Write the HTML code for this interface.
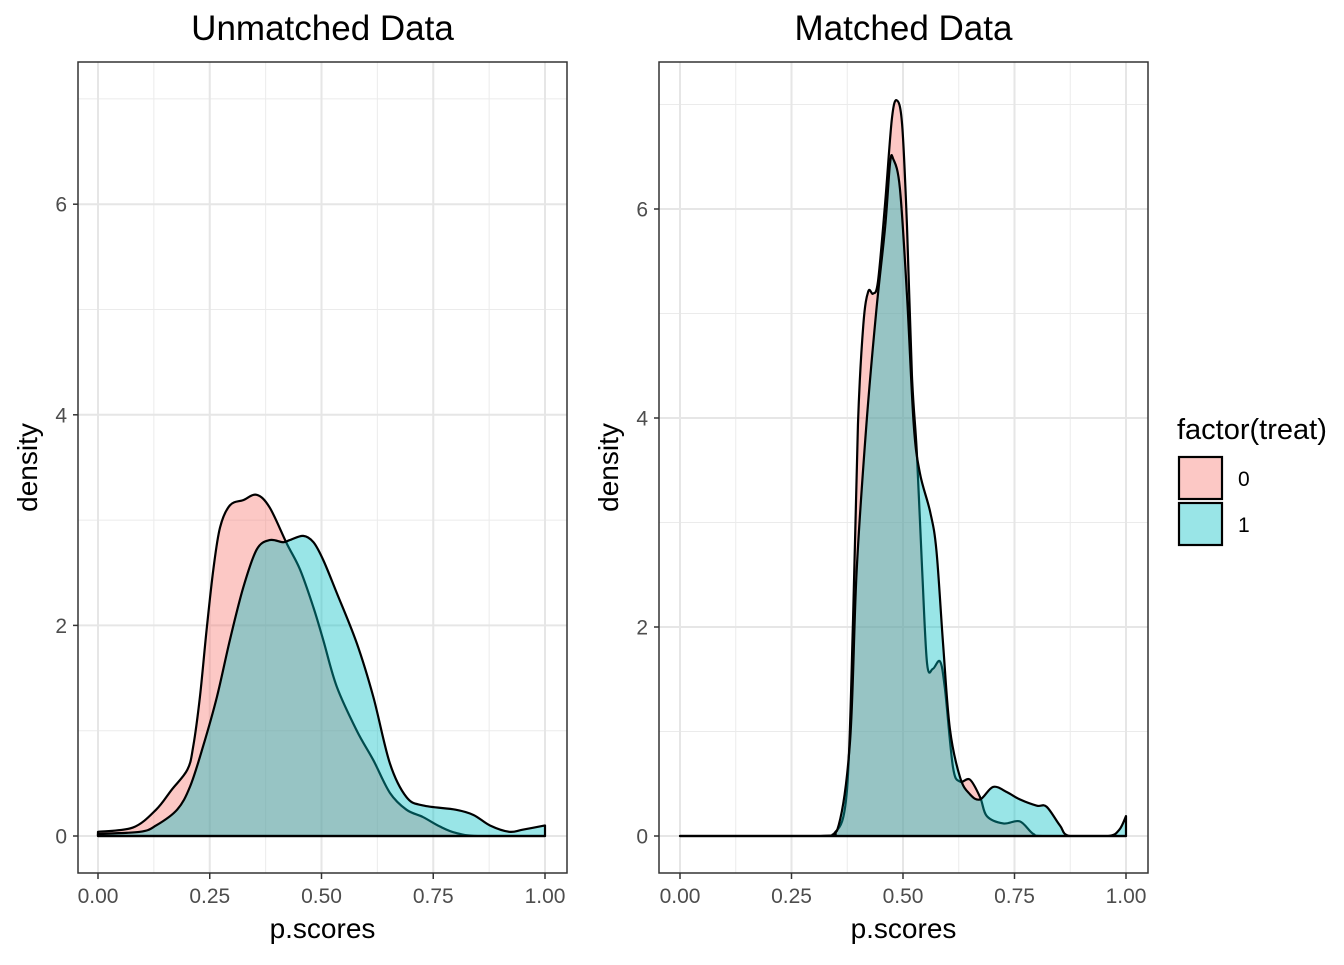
<!DOCTYPE html>
<html><head><meta charset="utf-8"><style>
body{margin:0;background:#fff;}
svg text{font-family:"Liberation Sans",Arial,sans-serif;}
</style></head><body>
<svg id="chart" width="1344" height="960" xmlns="http://www.w3.org/2000/svg"></svg>
<script>
// Unmatched data
const unX0 = [0,0.078,0.13,0.165,0.2,0.213,0.228,0.243,0.258,0.273,0.295,0.325,0.355,0.384,0.422,0.452,0.482,0.504,0.534,0.579,0.616,0.653,0.69,0.727,0.765,0.8,0.85,1];
const unY0 = [0.04,0.08,0.25,0.44,0.63,0.85,1.32,1.96,2.53,2.93,3.14,3.19,3.24,3.12,2.78,2.53,2.17,1.86,1.42,1.0,0.72,0.41,0.25,0.18,0.09,0.03,0,0];
const unX1 = [0,0.094,0.13,0.177,0.206,0.235,0.266,0.295,0.325,0.355,0.384,0.414,0.429,0.459,0.482,0.504,0.534,0.579,0.616,0.653,0.69,0.727,0.8,0.84,0.877,0.92,0.95,1];
const unY1 = [0.02,0.04,0.1,0.25,0.47,0.85,1.32,1.86,2.36,2.72,2.81,2.79,2.81,2.85,2.79,2.62,2.31,1.83,1.32,0.69,0.37,0.29,0.25,0.2,0.1,0.04,0.06,0.1];
// Matched data
const mX0 = [0,0.3,0.345,0.374,0.388,0.399,0.411,0.422,0.433,0.444,0.46,0.475,0.486,0.498,0.509,0.52,0.531,0.543,0.554,0.567,0.583,0.594,0.612,0.628,0.65,0.673,0.688,0.725,0.762,0.792,0.82,1];
const mY0 = [0,0,0.02,0.42,2.07,3.94,4.89,5.21,5.19,5.31,6.06,6.86,7.04,6.81,5.83,4.41,3.67,2.54,1.65,1.6,1.67,1.41,0.66,0.52,0.54,0.37,0.19,0.12,0.14,0.02,0,0];
const mX1 = [0,0.31,0.352,0.381,0.396,0.418,0.44,0.46,0.471,0.478,0.493,0.509,0.524,0.538,0.561,0.575,0.59,0.605,0.628,0.65,0.673,0.702,0.733,0.762,0.8,0.822,0.852,0.874,0.96,0.985,1];
const mY1 = [0,0,0.05,0.89,2.53,3.94,5.02,5.83,6.44,6.48,6.2,5.17,3.94,3.47,3.1,2.73,1.83,1.03,0.56,0.4,0.35,0.47,0.42,0.35,0.29,0.28,0.1,0,0,0.06,0.19];
const xTicks = ["0.00","0.25","0.50","0.75","1.00"];
const yTicks = [0,2,4,6];

const NS="http://www.w3.org/2000/svg";
const svg=document.getElementById('chart');
function mk(tag,attrs,parent){const e=document.createElementNS(NS,tag);for(const k in attrs)e.setAttribute(k,attrs[k]);(parent||svg).appendChild(e);return e;}

function smoothPath(pts,base){
  let d=`M${pts[0][0]},${pts[0][1]}`;
  for(let i=0;i<pts.length-1;i++){
    const p0=pts[Math.max(0,i-1)],p1=pts[i],p2=pts[i+1],p3=pts[Math.min(pts.length-1,i+2)];
    const c1x=p1[0]+(p2[0]-p0[0])/6,c1y=Math.min(base,p1[1]+(p2[1]-p0[1])/6);
    const c2x=p2[0]-(p3[0]-p1[0])/6,c2y=Math.min(base,p2[1]-(p3[1]-p1[1])/6);
    d+=` C${c1x},${c1y} ${c2x},${c2y} ${p2[0]},${p2[1]}`;
  }
  return d;
}

function panel(cfg){
  const g=mk('g',{});
  
  
  const sx=v=>cfg.x0+v*(cfg.x1-cfg.x0);
  const sy=v=>cfg.yb-v*cfg.yu;
  for(let v=1;v<=7;v+=2){const y=sy(v);if(y>cfg.top)mk('line',{x1:cfg.left,x2:cfg.right,y1:y,y2:y,stroke:'#ebebeb','stroke-width':1},g);}
  for(let v=0.125;v<1.2;v+=0.25){const x=sx(v);if(x<cfg.right)mk('line',{x1:x,x2:x,y1:cfg.top,y2:cfg.bottom,stroke:'#ebebeb','stroke-width':1},g);}
  yTicks.forEach(v=>{const y=sy(v);mk('line',{x1:cfg.left,x2:cfg.right,y1:y,y2:y,stroke:'#e6e6e6','stroke-width':2},g);
    mk('line',{x1:cfg.left-5,x2:cfg.left,y1:y,y2:y,stroke:'#333','stroke-width':1.5},g);
    const t=mk('text',{x:cfg.left-11,y:y+7.5,'text-anchor':'end','font-size':21,fill:'#4d4d4d'},g);t.textContent=v;
    });
  xTicks.forEach((s,i)=>{const x=sx(i*0.25);mk('line',{x1:x,x2:x,y1:cfg.top,y2:cfg.bottom,stroke:'#e6e6e6','stroke-width':2},g);
    mk('line',{x1:x,x2:x,y1:cfg.bottom,y2:cfg.bottom+6,stroke:'#333','stroke-width':1.5},g);
    const t=mk('text',{x:x,y:903,'text-anchor':'middle','font-size':21,fill:'#4d4d4d'},g);t.textContent=s;
    });
  const series=[[cfg.xs0,cfg.ys0,'#F8766D','density-treat-0'],[cfg.xs1,cfg.ys1,'#00BFC4','density-treat-1']];
  series.forEach(([xs,ys,col,nm])=>{
    const pts=xs.map((v,i)=>[sx(v),sy(Math.max(0,ys[i]))]);
    let d=smoothPath(pts,sy(0));
    const area=d+` L${sx(xs[xs.length-1])},${sy(0)} L${sx(xs[0])},${sy(0)} Z`;
    const p=mk('path',{d:area,fill:col,'fill-opacity':0.4,stroke:'#000','stroke-width':2.2,'stroke-linejoin':'round'},g);
    
  });
  mk('rect',{x:cfg.left,y:cfg.top,width:cfg.right-cfg.left,height:cfg.bottom-cfg.top,fill:'none',stroke:'#333','stroke-width':1.5},g);
  const tt=mk('text',{x:(cfg.left+cfg.right)/2,y:40,'text-anchor':'middle','font-size':35,fill:'#000'},g);tt.textContent=cfg.title;
  
  const xl=mk('text',{x:(cfg.left+cfg.right)/2,y:938,'text-anchor':'middle','font-size':28,fill:'#000'},g);xl.textContent='p.scores';
  
  const yl=mk('text',{x:0,y:0,'text-anchor':'middle','font-size':28,fill:'#000',transform:`translate(${cfg.left-41},${(cfg.top+cfg.bottom)/2}) rotate(-90)`},g);yl.textContent='density';
  
}
panel({name:'unmatched-panel',title:'Unmatched Data',left:78,right:567,top:62,bottom:873,x0:98,x1:545,yb:836,yu:105.3,xs0:unX0,ys0:unY0,xs1:unX1,ys1:unY1});
panel({name:'matched-panel',title:'Matched Data',left:659,right:1148,top:62,bottom:873,x0:680,x1:1126,yb:836,yu:104.5,xs0:mX0,ys0:mY0,xs1:mX1,ys1:mY1});

const lg=mk('g',{});


const lt=mk('text',{x:1177,y:439,'font-size':29,fill:'#000'},lg);lt.textContent='factor(treat)';
[['0','#F8766D',457],['1','#00BFC4',503]].forEach(([lab,col,y])=>{
  const r=mk('rect',{x:1179,y:y,width:43,height:42,fill:col,'fill-opacity':0.4,stroke:'#000','stroke-width':2.2},lg);
  
  const t=mk('text',{x:1238,y:y+29,'font-size':21,fill:'#000'},lg);t.textContent=lab;
  
});
</script>
</body></html>
